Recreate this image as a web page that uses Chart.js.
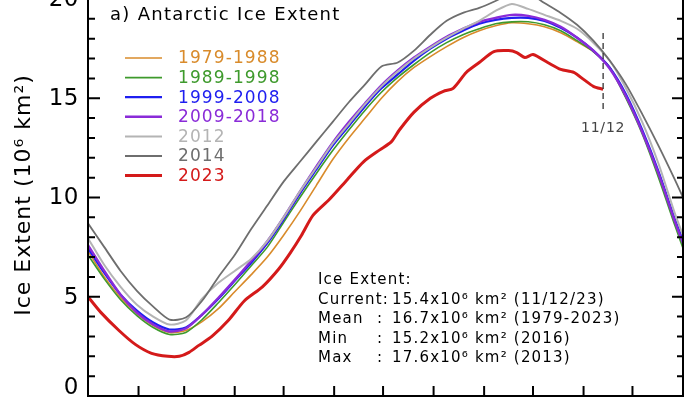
<!DOCTYPE html>
<html><head><meta charset="utf-8">
<script src="https://cdn.jsdelivr.net/npm/chart.js@4.4.0/dist/chart.umd.min.js"></script>
<style>
html,body{margin:0;padding:0;background:#fff;overflow:hidden;}
#wrap{position:relative;width:700px;height:400px;overflow:hidden;background:#fff;}
#c{position:absolute;left:0;top:-10px;}
</style></head><body>
<div id="wrap"><canvas id="c" width="700" height="430"></canvas></div>
<script>
// ---- data (day of year, sea-ice extent in 10^6 km^2) ----
const days = [0,10,20,30,40,50,60,70,80,90,100,110,120,130,140,150,160,170,180,190,200,210,220,230,240,250,260,270,280,290,300,310,320,330,340,350,360,365];
const ext1979_1988 = [7.3,6.0,4.95,4.15,3.55,3.2,3.3,3.75,4.4,5.25,6.1,7.0,8.1,9.3,10.6,11.9,13.0,14.0,15.0,15.85,16.55,17.1,17.6,18.05,18.4,18.65,18.8,18.75,18.6,18.3,17.85,17.35,16.55,15.05,13.3,11.1,8.8,7.6];
const ext1989_1998 = [7.1,5.9,4.85,4.05,3.45,3.1,3.2,3.85,4.7,5.6,6.55,7.5,8.75,10.0,11.2,12.35,13.4,14.4,15.3,16.05,16.7,17.3,17.8,18.2,18.5,18.75,18.85,18.85,18.7,18.4,17.9,17.35,16.55,15.0,13.2,11.0,8.6,7.45];
const ext1999_2008 = [7.45,6.2,5.1,4.3,3.7,3.35,3.45,4.1,4.9,5.8,6.7,7.7,8.9,10.2,11.4,12.6,13.6,14.6,15.5,16.2,16.9,17.5,18.0,18.4,18.75,18.95,19.05,19.05,18.9,18.55,18.05,17.4,16.55,15.2,13.4,11.3,8.9,7.85];
const ext2009_2018 = [7.6,6.3,5.1,4.2,3.6,3.25,3.4,4.1,4.95,5.85,6.8,7.8,9.0,10.3,11.55,12.75,13.8,14.75,15.65,16.4,17.05,17.6,18.1,18.5,18.85,19.05,19.2,19.15,18.95,18.6,18.05,17.4,16.5,15.1,13.3,11.2,8.8,7.7];
const ext2012 = [7.95,6.6,5.5,4.6,4.0,3.6,3.8,4.9,5.7,6.3,6.9,7.8,9.0,10.3,11.5,12.7,13.7,14.7,15.6,16.35,17.0,17.55,18.05,18.5,18.9,19.4,19.75,19.5,19.2,18.9,18.5,17.8,16.9,15.5,13.8,11.7,9.2,8.1];
const ext2014 = [8.7,7.5,6.3,5.3,4.5,3.85,3.95,4.8,6.0,7.1,8.4,9.6,10.8,11.8,12.8,13.8,14.8,15.7,16.6,16.8,17.4,18.2,18.9,19.3,19.55,19.9,20.3,20.3,19.8,19.3,18.7,17.9,16.9,15.7,14.2,12.6,10.9,10.0];
const days2023 = [0,8,19,29,39,49,56,62,68,76,86,96,107,117,124,131,138,148,159,169,179,186,191,200,210,218,224,232,240,249,258,263,268,273,282,290,298,304,310,316];
const ext2023 = [5.0,4.2,3.3,2.6,2.15,2.0,2.0,2.2,2.55,3.0,3.8,4.8,5.5,6.4,7.2,8.1,9.1,9.9,10.9,11.8,12.4,12.8,13.4,14.3,15.0,15.35,15.5,16.3,16.8,17.35,17.4,17.3,17.05,17.2,16.8,16.45,16.3,15.95,15.6,15.45];

const seriesLabels = ['1979-1988','1989-1998','1999-2008','2009-2018','2012','2014','2023'];
const seriesColors = ['#D98B2B','#3E9A2C','#1E1EF0','#8A2BD8','#B4B4B4','#6E6E6E','#D41A1A'];
const seriesWidths = [1.6,1.6,2.2,2.4,2.0,1.8,3.0];
const yTicks = [0,5,10,15,20];
const monthStarts = [0,31,59,90,120,151,181,212,243,273,304,334,365];
const currentDay = 316;
const currentLabel = '11/12';
const titleText = 'a) Antarctic Ice Extent';
const yTitle = 'Ice Extent (10⁶ km²)';
const statsHeader = 'Ice Extent:';
const statsLabels = ['Current:','Mean','Min','Max'];
const statsValues = ['15.4x10⁶ km² (11/12/23)','16.7x10⁶ km² (1979-2023)','15.2x10⁶ km² (2016)','17.6x10⁶ km² (2013)'];

// ---- chart ----
const OFF = 10; // canvas is shifted up by this many px
const FONT = '"DejaVu Sans", sans-serif';
const pts = (xs, ys) => xs.map((d, i) => ({x: d, y: ys[i]}));
const allSeries = [
  pts(days, ext1979_1988), pts(days, ext1989_1998), pts(days, ext1999_2008),
  pts(days, ext2009_2018), pts(days, ext2012), pts(days, ext2014), pts(days2023, ext2023)
];
const drawOrder = [6,5,4,3,2,1,0];
const datasets = allSeries.map((d, i) => ({
  label: seriesLabels[i], data: d, borderColor: seriesColors[i], backgroundColor: seriesColors[i],
  borderWidth: seriesWidths[i], pointRadius: 0, tension: 0.25, fill: false, order: drawOrder[i]
}));

function txt(ctx, s, x, y, size, color, align, spacing, baseline) {
  ctx.save();
  ctx.font = size + 'px ' + FONT;
  ctx.fillStyle = color;
  ctx.textAlign = align || 'left';
  ctx.textBaseline = baseline || 'alphabetic';
  ctx.letterSpacing = (spacing || 0) + 'px';
  ctx.fillText(s, x, y);
  ctx.restore();
}

const decor = {
  id: 'decor',
  afterDraw(chart) {
    const {ctx, chartArea: a} = chart;
    const xs = chart.scales.x, ys = chart.scales.y;
    ctx.save();
    // frame
    ctx.strokeStyle = '#000'; ctx.lineWidth = 2;
    ctx.strokeRect(a.left, a.top, a.right - a.left, a.bottom - a.top);
    // y ticks (minor every 1, major every 5)
    for (let v = ys.min; v <= ys.max; v += 1) {
      const py = ys.getPixelForValue(v);
      const major = yTicks.includes(v);
      ctx.beginPath();
      ctx.moveTo(a.left, py); ctx.lineTo(a.left + (major ? 12 : 7), py);
      ctx.moveTo(a.right, py); ctx.lineTo(a.right - (major ? 11 : 6), py);
      ctx.stroke();
    }
    yTicks.forEach(v => {
      const y = Math.min(ys.getPixelForValue(v) + 1, a.bottom - 8);
      txt(ctx, String(v), a.left - 9, y, 23, '#000', 'right', 0.5, 'middle');
    });
    // month ticks
    monthStarts.forEach(m => {
      const px = xs.getPixelForValue(m);
      ctx.beginPath(); ctx.moveTo(px, a.bottom); ctx.lineTo(px, a.bottom - 10); ctx.stroke();
    });
    // y title
    ctx.save();
    ctx.translate(24, 195 + OFF);
    ctx.rotate(-Math.PI / 2);
    txt(ctx, yTitle, 0, 0, 22, '#000', 'center', 1, 'middle');
    ctx.restore();
    // title
    txt(ctx, titleText, 110, 20 + OFF, 18, '#000', 'left', 1.3);
    // legend
    seriesLabels.forEach((lab, i) => {
      const y = 58 + i * 19.6 + OFF;
      ctx.strokeStyle = seriesColors[i]; ctx.lineWidth = seriesWidths[i];
      ctx.beginPath(); ctx.moveTo(125, y); ctx.lineTo(162, y); ctx.stroke();
      txt(ctx, lab, 178, y + 1, 17, seriesColors[i], 'left', 1.1, 'middle');
    });
    // current-day marker
    const cx = xs.getPixelForValue(currentDay);
    ctx.strokeStyle = '#333'; ctx.lineWidth = 1.3; ctx.setLineDash([6, 4]);
    ctx.beginPath(); ctx.moveTo(cx, 33 + OFF); ctx.lineTo(cx, 113 + OFF); ctx.stroke();
    ctx.setLineDash([]);
    txt(ctx, currentLabel, cx, 128 + OFF, 14, '#444', 'center', 0.8, 'middle');
    // stats block
    txt(ctx, statsHeader, 318, 284 + OFF, 15, '#000', 'left', 1.2);
    statsLabels.forEach((lab, i) => {
      const y = 303.5 + i * 19.6 + OFF;
      txt(ctx, lab, 318, y, 15, '#000', 'left', 1.2);
      if (i > 0) txt(ctx, ':', 377, y, 15, '#000', 'left', 0);
      txt(ctx, statsValues[i], 392, y, 15, '#000', 'left', 1.2);
    });
    ctx.restore();
  }
};

new Chart(document.getElementById('c'), {
  type: 'line',
  data: { datasets },
  options: {
    responsive: false, animation: false, devicePixelRatio: 1,
    layout: { padding: { left: 88, right: 17, top: 9, bottom: 24 } },
    plugins: { legend: { display: false }, tooltip: { enabled: false }, title: { display: false } },
    scales: {
      x: { type: 'linear', min: 0, max: 365, display: false },
      y: { type: 'linear', min: 0, max: 20, display: false }
    }
  },
  plugins: [decor]
});
</script>
</body></html>
